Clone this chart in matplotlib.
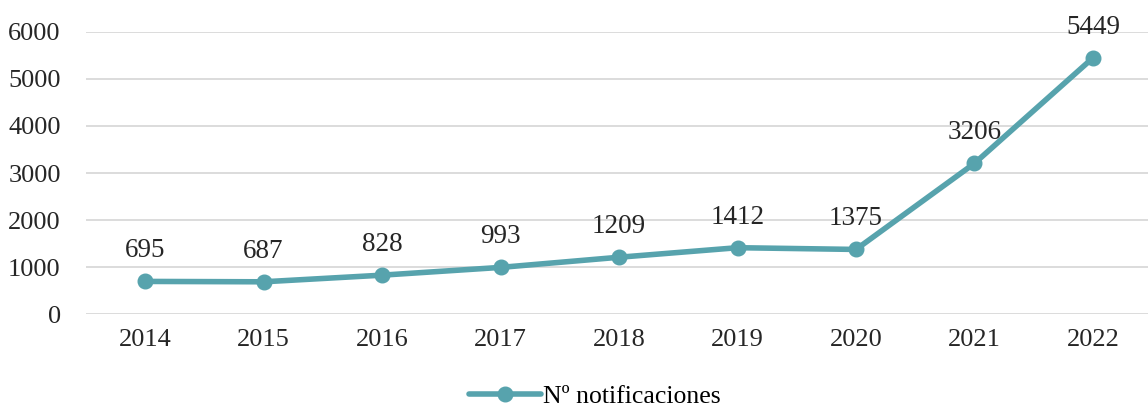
import matplotlib.pyplot as plt

# datos
anios = ["2014", "2015", "2016", "2017", "2018", "2019", "2020", "2021", "2022"]
notificaciones = [695, 687, 828, 993, 1209, 1412, 1375, 3206, 5449]

color = "#57A3AD"
plt.rcParams["font.family"] = ["Liberation Serif", "DejaVu Serif"]

fig = plt.figure(figsize=(11.48, 4.09), dpi=100)
ax = fig.add_axes([0.0747, 0.232, 0.929, 0.69])

x = range(len(anios))
ax.plot(x, notificaciones, color=color, lw=4, marker="o", ms=10.5,
        label="Nº notificaciones", solid_capstyle="round")

for i, v in zip(x, notificaciones):
    ax.annotate(str(v), (i, v), xytext=(0, 13), textcoords="offset points",
                ha="center", va="bottom", fontsize=19.5, color="#262626")

ax.set_xlim(-0.5, len(anios) - 0.5)
ax.set_ylim(0, 6000)
ax.set_yticks(range(0, 6001, 1000))
ax.set_xticks(list(x))
ax.set_xticklabels(anios)
ax.yaxis.grid(True, color="#d9d9d9", lw=1.3)
ax.set_axisbelow(True)
for s in ax.spines.values():
    s.set_visible(False)
ax.tick_params(length=0, labelsize=19, colors="#262626")
ax.tick_params(axis="x", pad=11)
ax.tick_params(axis="y", pad=18)

fig.legend(loc="center", bbox_to_anchor=(0.518, 0.03), frameon=False,
           fontsize=18.5, handlelength=2.8, handletextpad=0.1)

fig.savefig("out.png", dpi=100)
